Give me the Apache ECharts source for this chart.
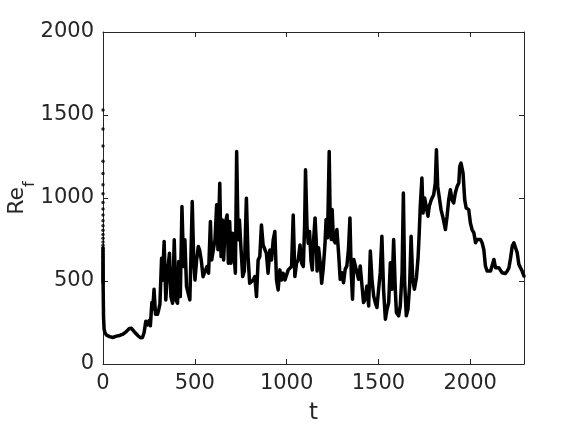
<!DOCTYPE html>
<html>
<head>
<meta charset="utf-8">
<script src="https://cdn.jsdelivr.net/npm/echarts@6/dist/echarts.min.js"></script>
<style>
html,body{margin:0;padding:0;background:#fff;}
#chart{width:580px;height:426px;}
</style>
</head>
<body>
<div id="chart"></div>
<script>
// time values
const tValues = [
  0, 1, 3, 6, 10, 18, 36, 55, 73, 91, 109, 127, 142, 155, 164, 178, 191, 204, 215, 224,
  233, 242, 251, 258, 266, 271, 278, 286,
  297, 304, 310, 319, 324, 333, 342, 351, 362, 370, 379, 388, 397, 406, 412, 421, 430, 439, 446, 455,
  464, 473, 479, 486, 494, 501, 510, 519, 526, 535, 545, 555, 566, 575, 585, 592, 601, 610, 619, 626,
  636, 643, 650, 657, 666, 676, 683, 690, 697, 705, 712, 721, 728, 736, 743, 752, 761, 770, 781, 790,
  799, 808, 818, 827, 836, 845, 854, 863, 872, 881, 890, 899, 909, 918, 927, 936, 945, 954, 963, 972,
  981, 991, 1000, 1009, 1018, 1027, 1036, 1045, 1054, 1063, 1073, 1082, 1091, 1098, 1103, 1111, 1118, 1125,
  1133, 1140, 1147, 1155, 1162, 1166, 1174, 1184, 1191, 1200, 1209, 1215, 1223, 1232, 1237, 1243, 1248, 1255,
  1265, 1274, 1283, 1292, 1301, 1310, 1319, 1328, 1337, 1345, 1352, 1359, 1366, 1374, 1383, 1392, 1401, 1410, 1419, 1428,
  1437, 1447, 1456, 1465, 1474, 1483, 1492, 1501, 1510, 1519, 1528, 1538, 1547, 1556, 1565, 1574, 1583, 1592, 1598, 1610,
  1619, 1629, 1636, 1643, 1652, 1661, 1670, 1678, 1687, 1696, 1707, 1716, 1722,
  1728, 1737, 1743, 1752, 1761, 1770, 1777, 1788, 1801, 1810, 1816, 1823, 1832, 1841, 1852, 1865, 1874, 1883, 1892, 1901,
  1910, 1919, 1929, 1938, 1943, 1950, 1956, 1961, 1970, 1978, 1992, 2001, 2010, 2020, 2029, 2038, 2047, 2056, 2065, 2074,
  2083, 2092, 2101, 2111, 2120, 2129, 2138, 2147, 2156, 2165, 2174, 2183, 2192, 2202, 2211, 2220, 2229, 2238, 2247, 2256,
  2265, 2274, 2283, 2293
];
// Re_f values
const reValues = [
  700, 450, 280, 210, 190, 175, 165, 160, 168, 172, 180, 195, 212, 215, 205, 185, 170, 158, 160, 190,
  258, 235, 262, 230, 370, 330, 450, 300,
  300, 330, 360, 637, 505, 738, 386, 547, 667, 406, 366, 748, 386, 366, 617, 406, 949, 587, 748, 466,
  426, 386, 647, 979, 627, 506, 627, 708, 688, 627, 526, 557, 587, 547, 858, 627, 688, 748, 959, 688,
  1089, 647, 868, 627, 848, 898, 607, 858, 607, 788, 688, 547, 1280, 748, 868, 688, 527, 560, 999, 647,
  486, 486, 506, 527, 406, 627, 647, 838, 717, 707, 667, 547, 687, 627, 748, 798, 506, 446, 567, 506,
  547, 506, 537, 567, 577, 587, 898, 527, 607, 627, 717, 607, 587, 828, 1170, 828, 727, 798,
  620, 567, 748, 880, 727, 560, 700, 600, 486, 580, 720, 870, 760, 1280, 900, 750, 930, 750,
  730, 810, 670, 510, 550, 490, 570, 590, 690, 880, 550, 390, 630, 640, 550, 510, 590, 600, 370, 390,
  470, 350, 680, 510, 410, 370, 340, 450, 550, 770, 450, 270, 330, 370, 610, 450, 750, 450, 310, 290,
  350, 550, 1030, 490, 290, 330, 470, 770, 510, 450, 520, 640, 780,
  950, 1120, 910, 1000, 1000, 890, 950, 990, 1020, 1090, 1290, 1070, 1080, 930, 880, 810, 890, 990, 1050, 990,
  970, 1030, 1070, 1090, 1190, 1210, 1210, 1150, 990, 940, 930, 850, 810, 790, 730, 750, 750, 750, 730, 690,
  590, 560, 560, 560, 570, 630, 580, 590, 580, 570, 550, 545, 545, 560, 580, 640, 710, 730, 725, 670,
  600, 580, 560, 530
];
// initial transient samples at t = 0 (drawn as dots)
const initialValues = [1530, 1415, 1313, 1222, 1148, 1080, 1025, 973, 933, 897, 863, 833, 805, 780, 757, 735,
  715, 697, 680, 663, 648, 634, 620, 607, 595, 583, 572, 561, 551, 541, 532, 523, 514, 506, 498, 490];
const xTicks = [0, 500, 1000, 1500, 2000];
const yTicks = [0, 500, 1000, 1500, 2000];

const axisColor = '#262626';
const font = 'DejaVu Sans';
const lineData = tValues.map((t, i) => [t, reValues[i]]);
const dotData = initialValues.map(v => [0, v]);

const chart = echarts.init(document.getElementById('chart'), null, {renderer: 'canvas'});
function axisBase() {
  return {
    axisLine: {show: true, onZero: false, lineStyle: {color: axisColor, width: 1}},
    axisTick: {show: true, inside: true, length: 5, lineStyle: {color: axisColor, width: 1}},
    splitLine: {show: false}
  };
}
chart.setOption({
  animation: false,
  backgroundColor: '#fff',
  grid: {left: 103, right: 56, top: 32, bottom: 62, containLabel: false, outerBoundsMode: 'none'},
  xAxis: [
    Object.assign(axisBase(), {
      type: 'value', min: 0, max: 2293, interval: 500, position: 'bottom',
      name: 't', nameLocation: 'middle', nameGap: 38, nameMoveOverlap: false,
      nameTextStyle: {fontSize: 23, color: axisColor, fontFamily: font},
      axisLabel: {fontSize: 21, color: axisColor, fontFamily: font, margin: 9,
        formatter: v => xTicks.includes(v) ? String(v) : ''}
    }),
    Object.assign(axisBase(), {
      type: 'value', min: 0, max: 2293, interval: 500, position: 'top',
      axisLabel: {show: false}
    })
  ],
  yAxis: [
    Object.assign(axisBase(), {
      type: 'value', min: 0, max: 2000, interval: 500, position: 'left',
      name: '{a|Re}{b|f}', nameLocation: 'middle', nameGap: 75, nameMoveOverlap: false,
      nameTextStyle: {
        color: axisColor, fontFamily: font,
        rich: {
          a: {fontSize: 22, color: axisColor, fontFamily: font, lineHeight: 22, verticalAlign: 'top'},
          b: {fontSize: 16, color: axisColor, fontFamily: font, lineHeight: 16, padding: [16, 0, 0, 0], verticalAlign: 'top'}
        }
      },
      axisLabel: {fontSize: 21, color: axisColor, fontFamily: font, margin: 9,
        formatter: v => yTicks.includes(v) ? String(v) : ''}
    }),
    Object.assign(axisBase(), {
      type: 'value', min: 0, max: 2000, interval: 500, position: 'right',
      axisLabel: {show: false}
    })
  ],
  series: [
    {
      type: 'line', data: lineData, xAxisIndex: 0, yAxisIndex: 0,
      showSymbol: false, smooth: false,
      lineStyle: {color: '#000', width: 3.5, join: 'round', cap: 'round'},
      itemStyle: {color: '#000'}
    },
    {
      type: 'scatter', data: dotData, xAxisIndex: 0, yAxisIndex: 0,
      symbol: 'circle', symbolSize: 3.5, clip: false,
      itemStyle: {color: '#000'}
    }
  ]
});
</script>
</body>
</html>
